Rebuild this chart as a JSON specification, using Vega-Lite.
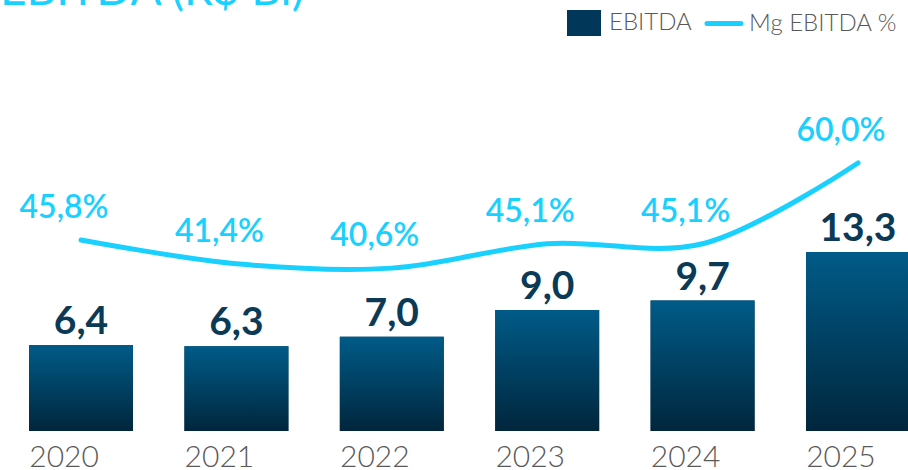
{
  "$schema": "https://vega.github.io/schema/vega-lite/v6.json",
  "width": 908,
  "height": 431,
  "autosize": {"type": "none"},
  "padding": {"left": 0, "top": 0, "right": 0, "bottom": 39},
  "background": "white",
  "title": {
    "text": "EBITDA (R$ Bi)",
    "anchor": "start",
    "orient": "top",
    "frame": "group",
    "offset": 0,
    "dy": 51,
    "baseline": "alphabetic",
    "font": "Lato",
    "fontSize": 46,
    "fontWeight": 400,
    "color": "#19d0ff"
  },
  "config": {
    "view": {"stroke": null},
    "locale": {"number": {"decimal": ",", "thousands": ".", "grouping": [3], "currency": ["R$", ""]}}
  },
  "data": {
    "values": [
      {"ano": "2020", "ebitda": 6.4, "margem": 0.458},
      {"ano": "2021", "ebitda": 6.3, "margem": 0.414},
      {"ano": "2022", "ebitda": 7.0, "margem": 0.406},
      {"ano": "2023", "ebitda": 9.0, "margem": 0.451},
      {"ano": "2024", "ebitda": 9.7, "margem": 0.451},
      {"ano": "2025", "ebitda": 13.3, "margem": 0.600}
    ]
  },
  "encoding": {
    "x": {
      "field": "ano",
      "type": "nominal",
      "sort": null,
      "scale": {"range": [0, 939], "paddingInner": 0.331, "paddingOuter": 0.187},
      "axis": {
        "title": null,
        "domain": false,
        "ticks": false,
        "labelAngle": 0,
        "labelFont": "Lato",
        "labelFontWeight": 300,
        "labelFontSize": 30,
        "labelColor": "#595959",
        "labelOffset": -17,
        "labelPadding": 11
      }
    }
  },
  "layer": [
    {
      "mark": {"type": "bar"},
      "encoding": {
        "y": {"field": "ebitda", "type": "quantitative", "scale": {"domain": [0, 32.04], "nice": false, "zero": true}, "axis": null},
        "color": {
          "datum": "EBITDA",
          "type": "nominal",
          "scale": {"domain": ["EBITDA", "Mg EBITDA %"], "range": ["#01385a", "#19d0ff"]},
          "legend": {
            "orient": "none",
            "legendX": 572,
            "legendY": 11,
            "direction": "horizontal",
            "title": null,
            "labelFont": "Lato",
            "labelFontWeight": 300,
            "labelFontSize": 24,
            "labelColor": "#595959",
            "labelOffset": 13,
            "columnPadding": 5,
            "symbolSize": 1156,
            "encode": {
              "symbols": {
                "update": {
                  "shape": {"signal": "datum.value === 'EBITDA' ? 'M-1,-0.76H1V0.76H-1Z' : 'M-1,0H1'"},
                  "fill": {"signal": "datum.value === 'EBITDA' ? '#01385a' : 'transparent'"},
                  "stroke": {"signal": "datum.value === 'EBITDA' ? 'transparent' : '#19d0ff'"},
                  "strokeWidth": {"signal": "datum.value === 'EBITDA' ? 0 : 5"},
                  "strokeCap": {"value": "round"},
                  "opacity": {"value": 1}
                }
              }
            }
          }
        }
      }
    },
    {
      "mark": {
        "type": "bar",
        "fill": {
          "gradient": "linear",
          "x1": 0, "y1": 0, "x2": 0, "y2": 1,
          "stops": [
            {"offset": 0, "color": "#005b88"},
            {"offset": 1, "color": "#01263c"}
          ]
        }
      },
      "encoding": {
        "y": {"field": "ebitda", "type": "quantitative", "scale": {"domain": [0, 32.04], "nice": false, "zero": true}, "axis": null}
      }
    },
    {
      "mark": {"type": "text", "baseline": "alphabetic", "dy": -11, "font": "Lato", "fontWeight": 700, "fontSize": 39, "color": "#0b3a56"},
      "encoding": {
        "y": {"field": "ebitda", "type": "quantitative", "scale": {"domain": [0, 32.04], "nice": false, "zero": true}, "axis": null},
        "text": {"field": "ebitda", "type": "quantitative", "format": ".1f"}
      }
    },
    {
      "layer": [
        {
          "mark": {"type": "line", "interpolate": "catmull-rom", "strokeWidth": 5, "strokeCap": "round"},
          "encoding": {
            "y": {"field": "margem", "type": "quantitative", "scale": {"domain": [0.1055, 0.9007], "nice": false, "zero": false}, "axis": null},
            "color": {"datum": "Mg EBITDA %", "type": "nominal"}
          }
        },
        {
          "mark": {"type": "text", "baseline": "alphabetic", "dy": -22, "dx": -17, "font": "Lato", "fontWeight": 600, "fontSize": 32, "color": "#19d0ff"},
          "encoding": {
            "y": {"field": "margem", "type": "quantitative", "scale": {"domain": [0.1055, 0.9007], "nice": false, "zero": false}, "axis": null},
            "text": {"field": "margem", "type": "quantitative", "format": ".1%"}
          }
        }
      ]
    }
  ],
  "resolve": {"scale": {"y": "independent"}}
}
